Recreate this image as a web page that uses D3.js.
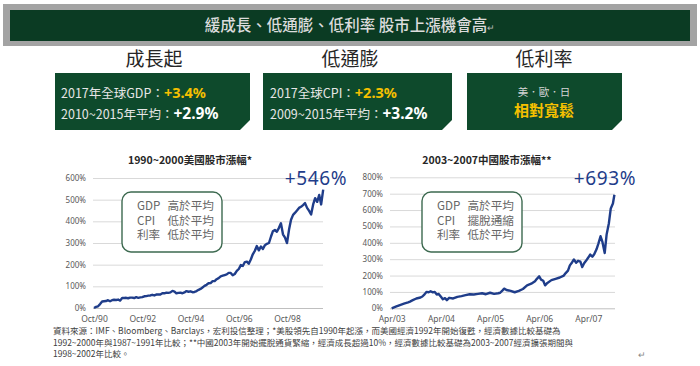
<!DOCTYPE html>
<html><head><meta charset="utf-8">
<script src="https://cdn.jsdelivr.net/npm/d3@7"></script>
<style>body{margin:0;background:#fff}svg{display:block}</style>
</head><body><svg id="c" width="700" height="366"></svg>
<script>
// ---------- DATA ----------
const usDates = [
"1990-10","1990-11","1990-12",
"1991-01","1991-02","1991-03","1991-04","1991-05","1991-06","1991-07","1991-08","1991-09","1991-10","1991-11","1991-12",
"1992-01","1992-02","1992-03","1992-04","1992-05","1992-06","1992-07","1992-08","1992-09","1992-10","1992-11","1992-12",
"1993-01","1993-02","1993-03","1993-04","1993-05","1993-06","1993-07","1993-08","1993-09","1993-10","1993-11","1993-12",
"1994-01","1994-02","1994-03","1994-04","1994-05","1994-06","1994-07","1994-08","1994-09","1994-10","1994-11","1994-12",
"1995-01","1995-02","1995-03","1995-04","1995-05","1995-06","1995-07","1995-08","1995-09","1995-10","1995-11","1995-12",
"1996-01","1996-02","1996-03","1996-04","1996-05","1996-06","1996-07","1996-08","1996-09","1996-10","1996-11","1996-12",
"1997-01","1997-02","1997-03","1997-04","1997-05","1997-06","1997-07","1997-08","1997-09","1997-10","1997-11","1997-12",
"1998-01","1998-02","1998-03","1998-04","1998-05","1998-06","1998-07","1998-08","1998-09","1998-10","1998-11","1998-12",
"1999-01","1999-02","1999-03","1999-04","1999-05","1999-06","1999-07","1999-08","1999-09","1999-10","1999-11","1999-12",
"2000-01","2000-02","2000-03","2000-04"];
const usValues = [
0,5,8,
18,30,31,32,36,31,36,38,37,39,34,46,
46,47,45,48,48,46,50,47,49,50,54,55,
57,58,61,58,62,63,62,68,68,71,70,72,
79,76,68,70,71,68,72,78,75,77,73,74,
78,84,88,95,102,107,114,115,124,124,133,138,
146,149,152,155,162,162,151,157,171,180,198,194,
212,214,204,224,248,264,286,266,284,272,290,296,
300,330,354,360,352,370,391,340,325,300,362,407,
430,440,450,462,467,475,484,462,448,432,478,507,
490,522,478,546];

const cnDates = [
"2003-04-01","2003-05-01","2003-06-01","2003-07-01","2003-08-01","2003-08-15","2003-09-01","2003-10-01","2003-11-01","2003-11-15","2003-12-01","2003-12-15",
"2004-01-01","2004-01-15","2004-02-01","2004-02-15","2004-03-01","2004-03-15","2004-04-01","2004-04-15","2004-05-01","2004-05-15","2004-06-01","2004-07-01","2004-08-01","2004-09-01","2004-10-01","2004-11-01","2004-12-01",
"2005-01-01","2005-02-01","2005-03-01","2005-04-01","2005-05-01","2005-06-01","2005-06-15","2005-07-01","2005-07-15","2005-08-01","2005-09-01","2005-10-01","2005-11-01","2005-12-01",
"2006-01-01","2006-02-01","2006-03-01","2006-03-15","2006-04-01","2006-04-15","2006-05-01","2006-05-15","2006-06-01","2006-07-01","2006-08-01","2006-09-01","2006-10-01","2006-10-15","2006-11-01","2006-11-15","2006-12-01","2006-12-15",
"2007-01-01","2007-01-15","2007-02-01","2007-02-15","2007-03-01","2007-03-15","2007-04-01","2007-04-15","2007-05-01","2007-05-15","2007-06-01","2007-06-15","2007-07-01","2007-07-15","2007-08-01","2007-08-15","2007-09-01","2007-09-15","2007-10-01","2007-10-12"];
const cnValues = [
0,10,20,28,36,41,48,60,66,72,85,100,
98,104,97,100,84,88,70,55,62,50,64,60,70,74,80,86,84,
88,92,86,95,88,92,95,108,120,112,106,98,106,118,
140,150,165,180,195,175,168,140,155,172,180,188,200,215,230,262,280,298,
278,290,285,252,275,290,310,328,315,330,360,395,440,405,338,450,520,610,640,693];

const usXTicks = ["1990-10","1992-10","1994-10","1996-10","1998-10"];
const cnXTicks = ["2003-04","2004-04","2005-04","2006-04","2007-04"];
const usYTicks = [0,100,200,300,400,500,600];
const cnYTicks = [0,100,200,300,400,500,600,700,800];

const headerTitle = "緩成長、低通膨、低利率 股市上漲機會高";
const sectionTitles = ["成長起","低通膨","低利率"];
const usTitle = "1990~2000美國股市漲幅*";
const cnTitle = "2003~2007中國股市漲幅**";
const usLabel = "+546%";
const cnLabel = "+693%";
const usNotes = [["GDP","高於平均"],["CPI","低於平均"],["利率","低於平均"]];
const cnNotes = [["GDP","高於平均"],["CPI","擺脫通縮"],["利率","低於平均"]];
const footnotes = [
"資料來源：IMF、Bloomberg、Barclays，宏利投信整理；*美股領先自1990年起漲，而美國經濟1992年開始復甦，經濟數據比較基礎為",
"1992~2000年與1987~1991年比較；**中國2003年開始擺脫通貨緊縮，經濟成長超過10%，經濟數據比較基礎為2003~2007經濟擴張期間與",
"1998~2002年比較。"];

// ---------- DRAW ----------
const svg = d3.select("#c");
const CJK = "'Noto Sans CJK TC','Noto Sans',sans-serif";
const GREEN = "#0e4a2c", YELLOW = "#f5c000", NAVY = "#1f3d8a";

// header
svg.append("rect").attr("x",3).attr("y",4).attr("width",694).attr("height",42).attr("fill","#a3a3a3");
svg.append("rect").attr("x",10).attr("y",10).attr("width",680).attr("height",31).attr("fill","#0b3b23");
const ht = svg.append("text").attr("x",350).attr("y",31).attr("text-anchor","middle")
  .attr("font-family",CJK).attr("font-size",15.5).attr("font-weight",500).attr("fill","#dcdcdc").text(headerTitle);
ht.append("tspan").attr("font-size",9).attr("font-weight","normal").attr("fill","#bbb").text("↵");

// section headings
const secX = [154,350,544];
sectionTitles.forEach((t,i)=>{
  svg.append("text").attr("x",secX[i]).attr("y",66).attr("text-anchor","middle")
    .attr("font-family",CJK).attr("font-size",19).attr("fill","#262626").text(t);
});

// green boxes with chamfered corner
const boxes = [[55,250],[263,452],[467,622]];
boxes.forEach(([x0,x1])=>{
  const y0=73, y1=130, c=10;
  svg.append("path").attr("d",`M${x0},${y0}H${x1}V${y1-c}L${x1-c},${y1}H${x0}Z`).attr("fill",GREEN);
});
function boxLine(x,y,label,val,valColor,valSize){
  const t = svg.append("text").attr("x",x).attr("y",y).attr("font-family",CJK);
  t.append("tspan").attr("font-size",12.5).attr("fill","#e6e6e6").text(label);
  t.append("tspan").attr("font-size",valSize).attr("font-weight","bold").attr("fill",valColor)
    .attr("font-family","'Noto Sans',sans-serif").text(val);
}
boxLine(61,97.5,"2017年全球GDP：","+3.4%",YELLOW,14.5);
boxLine(61,118.5,"2010~2015年平均：","+2.9%","#ffffff",15.5);
boxLine(270,97.5,"2017全球CPI：","+2.3%",YELLOW,14.5);
boxLine(270,118.5,"2009~2015年平均：","+3.2%","#ffffff",15.5);
svg.append("text").attr("x",544).attr("y",96).attr("text-anchor","middle").attr("font-family",CJK)
  .attr("font-size",10.5).attr("fill","#d6d6d6").text("美．歐．日");
svg.append("text").attr("x",544).attr("y",116).attr("text-anchor","middle").attr("font-family",CJK)
  .attr("font-size",15).attr("font-weight","bold").attr("fill",YELLOW).text("相對寬鬆");

// charts
const pm = d3.timeParse("%Y-%m"), pd = d3.timeParse("%Y-%m-%d");
const fmt = d3.timeFormat("%b/%y");

function chart(o){
  const x = d3.scaleTime().domain([o.xTicks[0], o.xTicks[o.xTicks.length-1]]).range([o.xa, o.xb]);
  const y = d3.scaleLinear().domain([0, o.yMax]).range([o.y0, o.y1]);
  const g = svg.append("g");
  const ya = g.append("g").attr("transform",`translate(${o.gl},0)`)
    .call(d3.axisLeft(y).tickValues(o.yTicks).tickSize(-(o.gr-o.gl)).tickPadding(7).tickFormat(d=>d+"%"));
  ya.select(".domain").remove();
  ya.selectAll("line").attr("stroke","#d9d9d9");
  ya.selectAll(".tick").filter(d=>d===0).select("line").attr("stroke","#bfbfbf");
  ya.selectAll("text").attr("font-family","'Noto Sans',sans-serif").attr("font-size",8).attr("fill","#595959");
  const xa = g.append("g").attr("transform",`translate(0,${o.y0})`)
    .call(d3.axisBottom(x).tickValues(o.xTicks).tickSize(0).tickPadding(8).tickFormat(fmt));
  xa.select(".domain").remove();
  xa.selectAll("text").attr("font-family","'Noto Sans',sans-serif").attr("font-size",8.5).attr("fill","#595959");
  const data = o.dates.map((d,i)=>({d, v:o.values[i]}));
  g.append("path").datum(data).attr("fill","none").attr("stroke",NAVY).attr("stroke-width",2.4)
    .attr("stroke-linejoin","round").attr("d",d3.line().x(p=>x(p.d)).y(p=>y(p.v)));
  g.append("text").attr("x",o.tx).attr("y",164).attr("text-anchor","middle").attr("font-family",CJK)
    .attr("font-size",10.5).attr("font-weight","bold").attr("fill","#262626").text(o.title);
  g.append("text").attr("x",o.lx).attr("y",185).attr("text-anchor","middle").attr("font-family","'Noto Sans',sans-serif")
    .attr("font-size",19).attr("font-weight",400).attr("letter-spacing",0.6).attr("fill",NAVY).text(o.label);
  g.append("rect").attr("x",o.bx).attr("y",192).attr("width",100).attr("height",60).attr("rx",9)
    .attr("fill","#fff").attr("stroke","#3d6a50").attr("stroke-width",1.4);
  const nt = g.append("text").attr("font-family",CJK).attr("font-size",11.6).attr("fill","#666");
  o.notes.forEach((n,i)=>{
    const yy = 210 + i*14.6;
    nt.append("tspan").attr("x",o.bx+15).attr("y",yy).text(n[0]);
    nt.append("tspan").attr("x",o.bx+45.5).attr("y",yy).text(n[1]);
  });
}

chart({dates:usDates.map(pm), values:usValues, xTicks:usXTicks.map(pm), yTicks:usYTicks, yMax:600,
  xa:94, xb:287, y0:308, y1:178, gl:93, gr:323, tx:190, lx:316, bx:122, title:usTitle, label:usLabel, notes:usNotes});
chart({dates:cnDates.map(pd), values:cnValues, xTicks:cnXTicks.map(pm), yTicks:cnYTicks, yMax:800,
  xa:391.7, xb:588.3, y0:308.3, y1:177.3, gl:390, gr:615, tx:487, lx:605, bx:422, title:cnTitle, label:cnLabel, notes:cnNotes});

// footnotes
const ft = svg.append("text").attr("font-family",CJK).attr("font-size",8.5).attr("fill","#404040");
footnotes.forEach((t,i)=>{ ft.append("tspan").attr("x",53).attr("y",334+i*11.6).text(t); });
svg.append("text").attr("x",638).attr("y",358).attr("font-family",CJK).attr("font-size",9).attr("fill","#888").text("↵");
</script></body></html>
